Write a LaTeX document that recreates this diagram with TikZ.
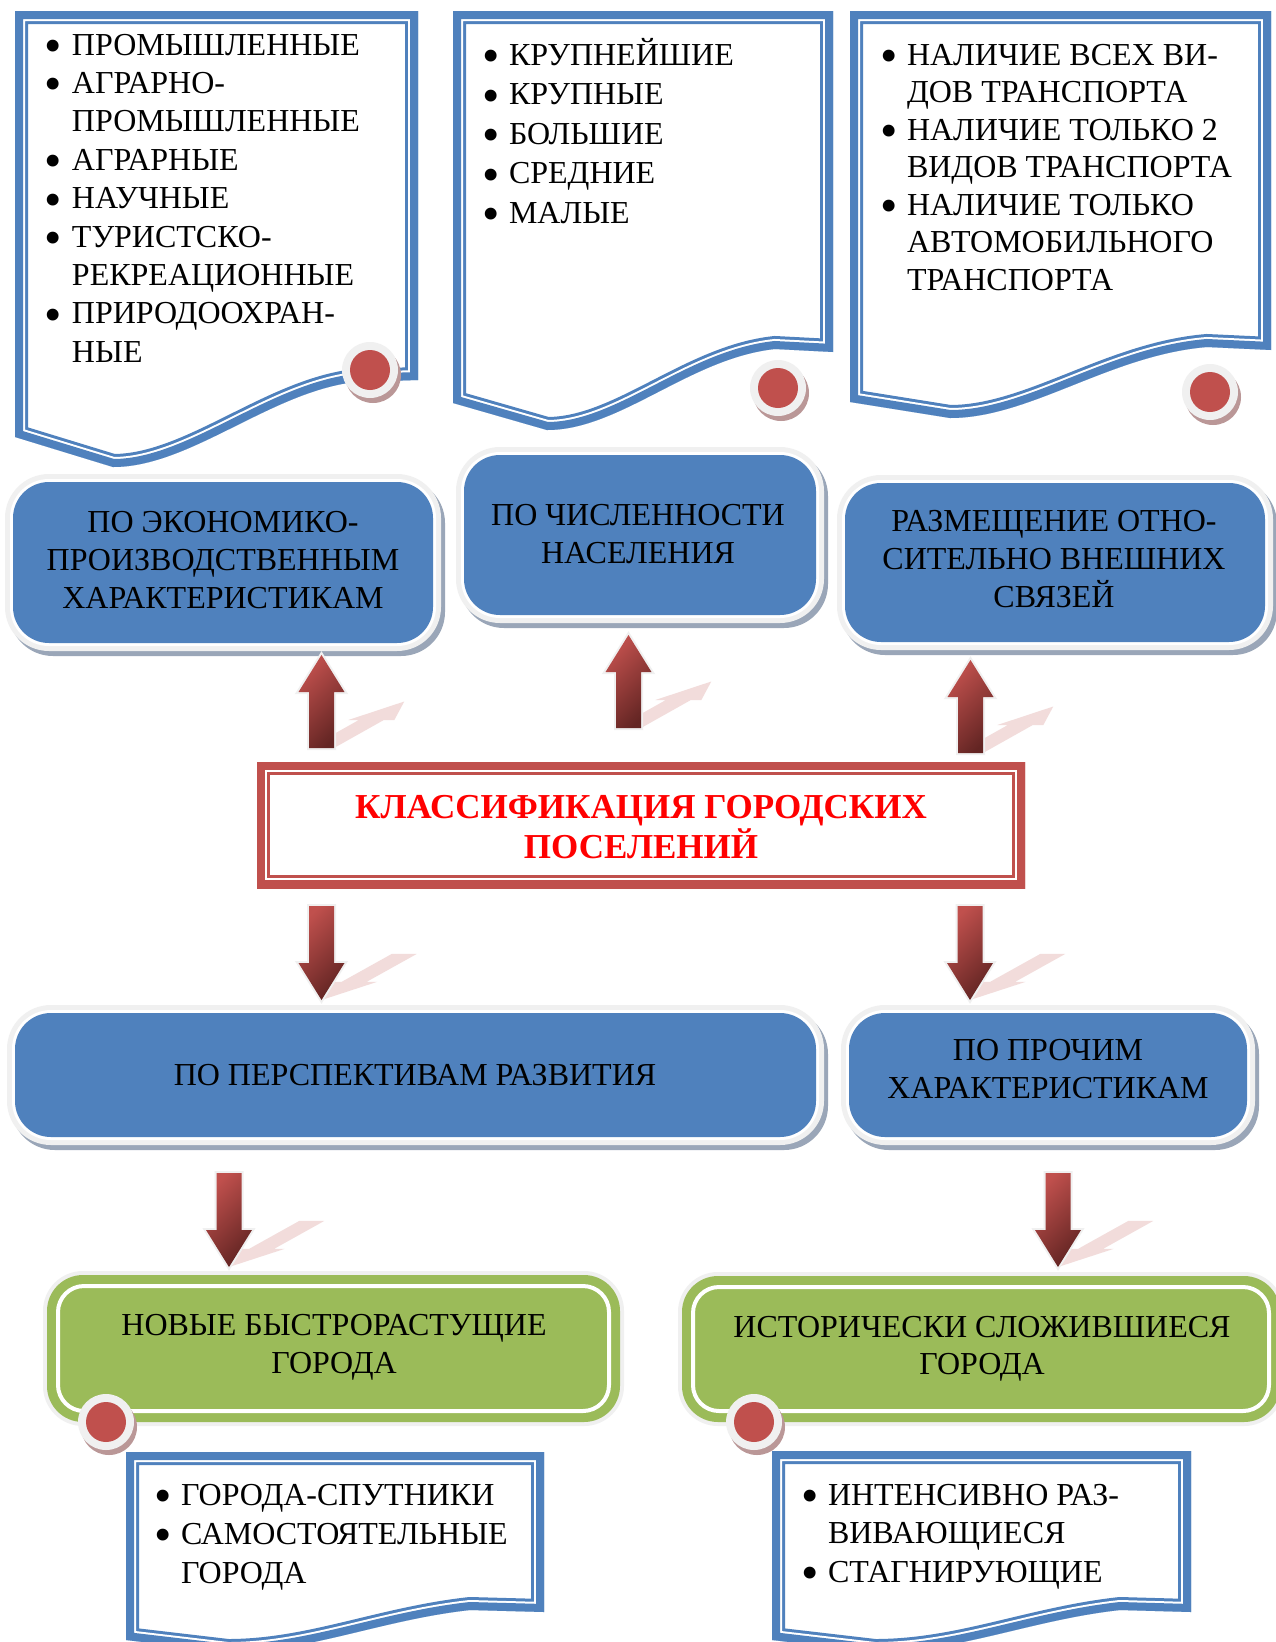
\documentclass[tikz,border=0pt]{standalone}
\usepackage{fontspec}
\setmainfont{Liberation Serif}
\usepackage{graphicx}
\definecolor{docblue}{HTML}{4F81BD}
\definecolor{boxblue}{HTML}{4F81BD}
\definecolor{boxgreen}{HTML}{9BBB59}
\definecolor{framered}{HTML}{C0504D}
\definecolor{dotred}{HTML}{C0504D}
\definecolor{arrowlight}{HTML}{C0504D}
\definecolor{arrowdark}{HTML}{632523}
\definecolor{pinkshadow}{HTML}{F2DCDB}
\definecolor{haloc}{HTML}{F0F0F0}
\definecolor{boxshadow}{HTML}{9AA6B8}
\definecolor{dotshadow}{HTML}{BA9797}
\definecolor{titlered}{HTML}{FF0000}

\newcommand\bulg{\raisebox{-7.5pt}{\scalebox{1.55}{\textbullet}}}
\newcommand\bi[1]{\makebox[27pt][l]{\bulg}#1}
\newcommand\ci[1]{\hspace*{27pt}#1}
\newcommand\ctab[1]{\begin{tabular}[t]{@{}c@{}}#1\end{tabular}}
\newcommand\ltab[1]{\begin{tabular}[t]{@{}l@{}}#1\end{tabular}}

% blue rounded box: name, x1, y1, x2, y2
\newcommand\bluebox[5]{%
  \fill[boxshadow, rounded corners=44pt] (#2-8+4,#3-8+5) rectangle (#4+8+4,#5+8+5);
  \fill[haloc, rounded corners=44pt] (#2-8,#3-8) rectangle (#4+8,#5+8);
  \fill[white, rounded corners=39pt] (#2-3,#3-3) rectangle (#4+3,#5+3);
  \node[bluenode, minimum width={#4-#2}, minimum height={#5-#3}] (#1) at ({(#2+#4)/2},{(#3+#5)/2}) {};
}
% green rounded box
\newcommand\greenbox[5]{%
  \fill[haloc, rounded corners=40pt] (#2-4,#3-4) rectangle (#4+4,#5+4);
  \node[greennode, minimum width={#4-#2}, minimum height={#5-#3}] (#1) at ({(#2+#4)/2},{(#3+#5)/2}) {};
  \draw[white, line width=4pt, rounded corners=26pt] (#2+11,#3+11) rectangle (#4-11,#5-11);
}
% double frame on the inside of a closed path
\newcommand\docframe[2]{%
  \begin{scope}
    \clip #2;
    \fill[white] #2;
    \draw[#1, line width=26pt] #2;
    \draw[white, line width=20pt] #2;
    \draw[#1, line width=16pt] #2;
  \end{scope}}
\newcommand\reddot[2]{%
  \fill[dotshadow] (#1+3,#2+5) circle (28pt);
  \fill[haloc] (#1,#2) circle (28pt);
  \fill[dotred] (#1,#2) circle (20pt);}
\newcommand\uparwshape[1]{\path[#1] (-12.5,0) -- (12.5,0) -- (12.5,-56) -- (23,-56) -- (0,-93) -- (-23,-56) -- (-12.5,-56) -- cycle;}
\newcommand\dnarwshape[1]{\path[#1] (0,0) -- (23,-37) -- (12.5,-37) -- (12.5,-94) -- (-12.5,-94) -- (-12.5,-37) -- (-23,-37) -- cycle;}
\newcommand\uparw[3]{%
  \coordinate (#1) at (#2,#3);
  \begin{scope}[shift={(#1)}]
    \begin{scope}[cm={1,0,0.89,0.5,(0,0)}]
      \uparwshape{fill=pinkshadow}
    \end{scope}
    \uparwshape{arrowfill}
  \end{scope}}
\newcommand\downarw[3]{%
  \coordinate (#1) at (#2,#3);
  \begin{scope}[shift={(#1)}]
    \begin{scope}[cm={1,0,0.88,0.49,(0,0)}]
      \dnarwshape{fill=pinkshadow}
    \end{scope}
    \dnarwshape{arrowfill}
  \end{scope}}

\begin{document}
\begin{tikzpicture}[x=1pt,y=-1pt,
  bluenode/.style={rectangle, rounded corners=36pt, fill=boxblue, inner sep=0pt, outer sep=0pt},
  greennode/.style={rectangle, rounded corners=36pt, fill=boxgreen, inner sep=0pt, outer sep=0pt},
  ctxt/.style={inner sep=0pt, outer sep=0pt, anchor=base, font=\fontsize{32}{38}\selectfont},
  ltxt/.style={inner sep=0pt, outer sep=0pt, anchor=base west},
  arrowfill/.style={shade, shading=axis, top color=arrowlight, bottom color=arrowdark, shading angle=45,
     preaction={draw=haloc, line width=4pt}}
]
\useasboundingbox (0,0) rectangle (1276,1642);
\fill[white] (0,0) rectangle (1276,1642);
\clip (0,0) rectangle (1276,1642);

% ---------- top document frames ----------
\docframe{docblue}{(15,11) -- (418,11) -- (418,380) -- (355,382) .. controls (270,392) and (190,467) .. (113,467) -- (15,437) -- cycle}
\docframe{docblue}{(453,11) -- (833,11) -- (833,352) -- (775,349) .. controls (690,358) and (620,430) .. (547,430) -- (453,403) -- cycle}
\docframe{docblue}{(850,11) -- (1271,11) -- (1271,350) -- (1207,347) .. controls (1110,355) and (1030,418) .. (950,418) -- (850,402) -- cycle}

\node[ltxt, font=\fontsize{32}{38.4}\selectfont] (tA) at (45,55) {\ltab{\bi{ПРОМЫШЛЕННЫЕ}\\ \bi{АГРАРНО-}\\ \ci{ПРОМЫШЛЕННЫЕ}\\ \bi{АГРАРНЫЕ}\\ \bi{НАУЧНЫЕ}\\ \bi{ТУРИСТСКО-}\\ \ci{РЕКРЕАЦИОННЫЕ}\\ \bi{ПРИРОДООХРАН-}\\ \ci{НЫЕ}}};
\node[ltxt, font=\fontsize{32}{39.5}\selectfont] (tB) at (482,65) {\ltab{\bi{\smash{КРУПНЕЙШИЕ}}\\ \bi{КРУПНЫЕ}\\ \bi{БОЛЬШИЕ}\\ \bi{СРЕДНИЕ}\\ \bi{МАЛЫЕ}}};
\node[ltxt, font=\fontsize{32}{37.5}\selectfont] (tC) at (880,65) {\ltab{\bi{НАЛИЧИЕ ВСЕХ ВИ-}\\ \ci{ДОВ ТРАНСПОРТА}\\ \bi{НАЛИЧИЕ ТОЛЬКО 2}\\ \ci{ВИДОВ ТРАНСПОРТА}\\ \bi{НАЛИЧИЕ ТОЛЬКО}\\ \ci{АВТОМОБИЛЬНОГО}\\ \ci{ТРАНСПОРТА}}};

\reddot{370}{370}
\reddot{778}{388}
\reddot{1210}{392}

% ---------- first row of blue boxes ----------
\bluebox{b1}{13}{482}{433}{643}
\bluebox{b2}{464}{455}{816}{615}
\bluebox{b3}{845}{483}{1265}{642}
\node[ctxt] (b1t) at (223,532) {\ctab{ПО ЭКОНОМИКО-\\ПРОИЗВОДСТВЕННЫМ\\ХАРАКТЕРИСТИКАМ}};
\node[ctxt] (b2t) at (638,525) {\ctab{ПО ЧИСЛЕННОСТИ\\НАСЕЛЕНИЯ}};
\node[ctxt] (b3t) at (1054,531) {\ctab{РАЗМЕЩЕНИЕ ОТНО-\\СИТЕЛЬНО ВНЕШНИХ\\\smash{СВЯЗЕЙ}}};

% ---------- up arrows ----------
\uparw{u1}{321.5}{748}
\uparw{u2}{628.5}{728}
\uparw{u3}{970.5}{753}

% ---------- title ----------
\node[inner sep=0pt, outer sep=0pt, minimum width=768, minimum height=126] (titlebox) at (641,825) {};
\docframe{framered}{(titlebox.north west) rectangle (titlebox.south east)}
\node[inner sep=0pt, anchor=base, font=\fontsize{35}{40}\selectfont\bfseries, text=titlered] (title) at (641,818) {\ctab{КЛАССИФИКАЦИЯ ГОРОДСКИХ\\\smash{ПОСЕЛЕНИЙ}}};

% ---------- down arrows ----------
\downarw{d1}{321.5}{1000}
\downarw{d2}{970}{1000}

% ---------- second row ----------
\bluebox{b4}{15}{1013}{816}{1137}
\bluebox{b5}{849}{1013}{1247}{1137}
\node[ctxt] (b4t) at (415,1085) {ПО ПЕРСПЕКТИВАМ РАЗВИТИЯ};
\node[ctxt] (b5t) at (1048,1060) {\ctab{ПО ПРОЧИМ\\ХАРАКТЕРИСТИКАМ}};

\downarw{d3}{229}{1267}
\downarw{d4}{1058}{1267}

% ---------- green boxes ----------
\greenbox{g1}{47}{1275}{620}{1422}
\greenbox{g2}{682}{1276}{1280}{1422}
\node[ctxt] (g1t) at (334,1335) {\ctab{НОВЫЕ БЫСТРОРАСТУЩИЕ\\ГОРОДА}};
\node[ctxt, font=\fontsize{32}{37}\selectfont] (g2t) at (982,1337) {\ctab{ИСТОРИЧЕСКИ СЛОЖИВШИЕСЯ\\ГОРОДА}};
\reddot{106}{1422}
\reddot{754}{1422}

% ---------- bottom document frames ----------
\docframe{docblue}{(126,1452) -- (544,1452) -- (544,1612) -- (470,1610) .. controls (380,1620) and (310,1652) .. (228,1652) -- (126,1640) -- cycle}
\docframe{docblue}{(772,1451) -- (1191,1451) -- (1191,1612) -- (1120,1610) .. controls (1030,1620) and (960,1652) .. (875,1652) -- (772,1640) -- cycle}
\node[ltxt, font=\fontsize{32}{39}\selectfont] (tD) at (154,1505) {\ltab{\bi{ГОРОДА-СПУТНИКИ}\\ \bi{САМОСТОЯТЕЛЬНЫЕ}\\ \ci{ГОРОДА}}};
\node[ltxt, font=\fontsize{32}{38.5}\selectfont] (tE) at (801,1505) {\ltab{\bi{ИНТЕНСИВНО РАЗ-}\\ \ci{ВИВАЮЩИЕСЯ}\\ \bi{СТАГНИРУЮЩИЕ}}};
\end{tikzpicture}
\end{document}
